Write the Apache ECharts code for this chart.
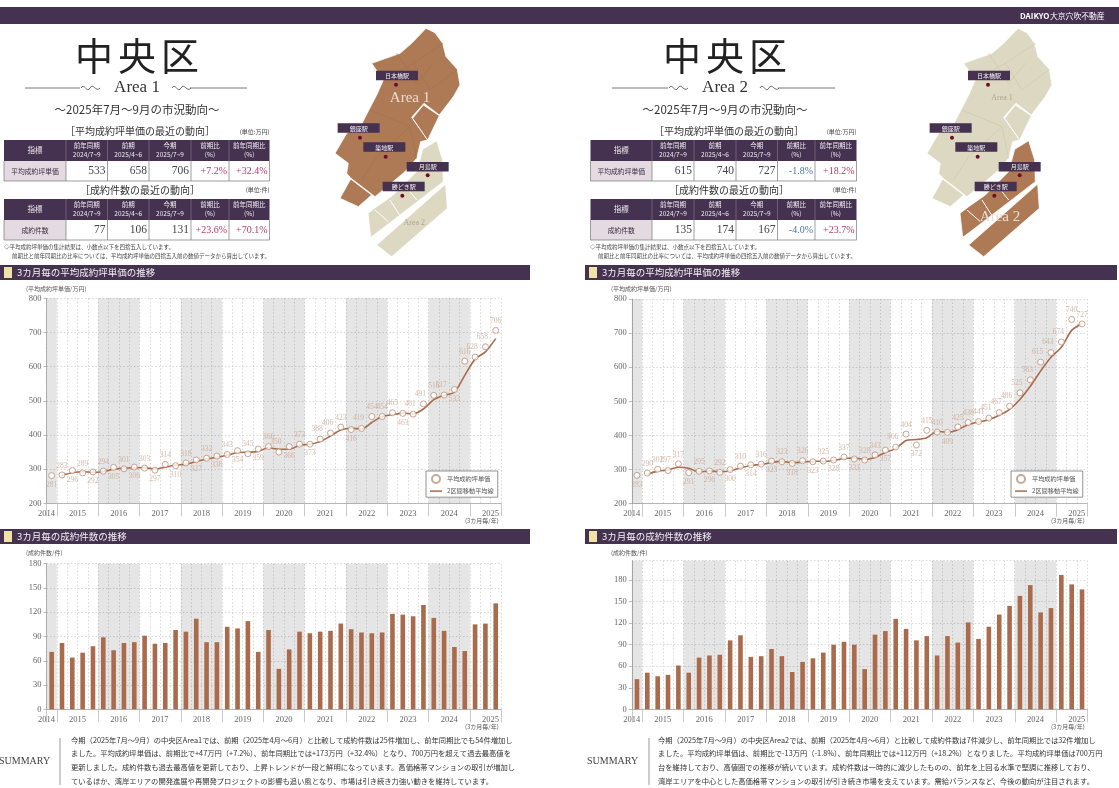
<!DOCTYPE html>
<html><head><meta charset="utf-8">
<script src="https://cdn.jsdelivr.net/npm/echarts@6/dist/echarts.min.js"></script>
<style>html,body{margin:0;padding:0;background:#fff}#c{width:1119px;height:788px}</style>
</head><body><div id="c"></div>
<script>
const quarters = [];
const quarterYears = [2014];
for (let y = 2015; y <= 2024; y++) quarterYears.push(y, y, y, y);
quarterYears.push(2025, 2025, 2025);
quarterYears.forEach((y, i) => quarters.push(y + '-' + i));

const yearLabels = ['2014','2015','2016','2017','2018','2019','2020','2021','2022','2023','2024','2025'];
const yearLabelPos = [0,3,7,11,15,19,23,27,31,35,39,43];
const yearTickPos = [0,1,5,9,13,17,21,25,29,33,37,41,44];

const priceArea1 = [281,283,296,289,292,294,305,301,306,303,297,314,310,318,327,332,338,343,354,345,359,366,350,366,373,373,388,406,423,416,419,454,454,465,463,461,491,516,517,533,616,628,658,706];
const maArea1 = [null,282,289.5,292.5,290.5,293,299.5,303,303.5,304.5,300,305.5,312,314,322.5,329.5,335,340.5,348.5,349.5,352,362.5,358,358,369.5,373,380.5,397,414.5,419.5,417.5,436.5,454,459.5,464,462,476,503.5,516.5,525,574.5,622,643,682];
const countArea1 = [71,82,64,70,78,89,73,82,83,91,81,82,98,96,112,83,83,102,100,109,71,98,50,74,96,94,96,97,106,99,95,94,95,118,117,115,129,113,97,77,72,105,106,131];

const priceArea2 = [283,290,301,297,317,291,295,296,292,300,310,314,316,325,323,318,326,323,325,328,337,331,328,343,357,366,404,372,415,410,409,425,438,441,451,467,486,525,563,615,643,674,740,727];
const maArea2 = [null,286.5,295.5,299,307,304,293,295.5,294,296,305,312,315,320.5,324,320.5,322,324.5,324,326.5,332.5,334,329.5,335.5,350,361.5,385,388,393.5,412.5,409.5,417,431.5,439.5,446,459,476.5,505.5,544,589,629,658.5,708,728];
const countArea2 = [42,51,46,48,61,51,72,75,76,96,103,73,74,84,74,52,66,71,79,90,94,90,56,104,109,126,112,96,102,75,102,93,121,98,115,132,144,158,173,135,141,187,174,167];

const belowArea1 = [0,2,4,6,8,10,12,14,16,18,20,23,25,29,34,39];
const belowArea2 = [0,5,7,9,11,13,15,17,19,21,24,27,30];

const tableHead = ['指標','前年同期\n2024/7~9','前期\n2025/4~6','今期\n2025/7~9','前期比\n(%)','前年同期比\n(%)'];
const priceRow1 = ['平均成約坪単価','533','658','706','+7.2%','+32.4%'];
const countRow1 = ['成約件数','77','106','131','+23.6%','+70.1%'];
const priceRow2 = ['平均成約坪単価','615','740','727','-1.8%','+18.2%'];
const countRow2 = ['成約件数','135','174','167','-4.0%','+23.7%'];

const summary1 = [
 '今期（2025年7月～9月）の中央区Area1では、前期（2025年4月～6月）と比較して成約件数は25件増加し、前年同期比でも54件増加し',
 'ました。平均成約坪単価は、前期比で+47万円（+7.2%）、前年同期比では+173万円（+32.4%）となり、700万円を超えて過去最高値を',
 '更新しました。成約件数も過去最高値を更新しており、上昇トレンドが一段と鮮明になっています。高価格帯マンションの取引が増加し',
 'ているほか、湾岸エリアの開発進展や再開発プロジェクトの影響も追い風となり、市場は引き続き力強い動きを維持しています。'];
const summary2 = [
 '今期（2025年7月～9月）の中央区Area2では、前期（2025年4月～6月）と比較して成約件数は7件減少し、前年同期比では32件増加し',
 'ました。平均成約坪単価は、前期比で-13万円（-1.8%）、前年同期比では+112万円（+18.2%）となりました。平均成約坪単価は700万円',
 '台を維持しており、高値圏での推移が続いています。成約件数は一時的に減少したものの、前年を上回る水準で堅調に推移しており、',
 '湾岸エリアを中心とした高価格帯マンションの取引が引き続き市場を支えています。需給バランスなど、今後の動向が注目されます。'];

const stations = ['日本橋駅','銀座駅','築地駅','月島駅','勝どき駅'];

const SERIF = '"Liberation Serif","Noto Sans CJK JP",serif';
const SANS = '"Noto Sans CJK JP",sans-serif';
const PURPLE = '#453150', BROWN = '#ad7a55', BEIGE = '#ddd8c2', BAR = '#a96b4c';
const PT = '平均成約坪単価', MA = '2区間移動平均線';

/* ---------- page furniture ---------- */
const els = [];
const T = (x, y, text, fontSize, o = {}) => els.push({type:'text', x, y, silent:true, z:20,
  style:{text, fontSize, fontFamily:o.font||SERIF, fill:o.fill||'#333', textAlign:o.align||'left',
    textVerticalAlign:'middle', fontWeight:o.weight||'normal', lineHeight:o.lh}});
const R = (x, y, w, h, fill, stroke, z = 15) => els.push({type:'rect', silent:true, z,
  shape:{x, y, width:w, height:h}, style:{fill, stroke:stroke||null, lineWidth:stroke?1:0}});
const L = (x1, y1, x2, y2, stroke, lw = 1) => els.push({type:'line', silent:true, z:16,
  shape:{x1, y1, x2, y2}, style:{stroke, lineWidth:lw}});
const flourish = (x, y, dir) => {
  els.push({type:'bezierCurve', silent:true, z:16, shape:{x1:x, y1:y, x2:x+9*dir, y2:y, cpx1:x+3*dir, cpy1:y-6, cpx2:x+6*dir, cpy2:y+6}, style:{stroke:'#555', fill:null, lineWidth:.9}});
  els.push({type:'bezierCurve', silent:true, z:16, shape:{x1:x+9*dir, y1:y, x2:x+19*dir, y2:y, cpx1:x+12*dir, cpy1:y-6, cpx2:x+15*dir, cpy2:y+5}, style:{stroke:'#555', fill:null, lineWidth:.9}});
};

R(0, 7, 1119, 17, PURPLE, null);
T(1020, 16, 'DAIKYO', 8, {font:SANS, fill:'#fff', weight:'bold'});
T(1050, 16, '大京穴吹不動産', 7.8, {font:SANS, fill:'#fff'});

function sectionBar(x, w, y, text) {
  R(x, y, w, 15, PURPLE, null);
  R(x + 4, y + 2, 8, 11, '#f1e3a8', null, 17);
  T(x + 17, y + 7.5, text, 9.5, {font:SANS, fill:'#f4f0f4'});
}

function table(cols, y, head, row) {
  const w = i => cols[i+1] - cols[i];
  R(cols[0], y, cols[6]-cols[0], 21, PURPLE, null);
  R(cols[0], y + 21, w(0), 20, '#e4dbe2', null);
  head.forEach((h, i) => T((cols[i]+cols[i+1])/2, y + 10.5, h, i ? 6.5 : 7.5, {font:SANS, fill:'#f0ebf0', align:'center', lh:9}));
  for (let i = 1; i < 6; i++) L(cols[i], y, cols[i], y + 21, '#8d7d95', .6);
  for (let i = 0; i < 7; i++) L(cols[i], y + 21, cols[i], y + 41, '#777', .7);
  L(cols[0], y + 41, cols[6], y + 41, '#777', .7);
  T((cols[0]+cols[1])/2, y + 31, row[0], 6.8, {font:SANS, fill:'#3a2b3d', align:'center'});
  row.slice(1).forEach((v, i) => {
    const pct = i >= 3;
    const neg = v[0] === '-';
    T(cols[i+2] - 2, y + 31, v, pct ? 10 : 11.5, {align:'right', fill: pct ? (neg ? '#4f74a8' : '#b83a64') : '#444'});
  });
}

function panelHead(cx, name, lineL, lineR, cols, rowP, rowC, secX, secX2, noteX) {
  ['中','央','区'].forEach((c, i) => T(cx - 43 + i*43, 56, c, 38, {font:SANS, align:'center', fill:'#222'}));
  L(lineL, 88, cx - 57, 88, '#555', .8);
  L(cx + 53, 88, lineR, 88, '#555', .8);
  flourish(cx - 56, 88, 1);
  flourish(cx + 35, 88, 1);
  T(cx, 88, name, 17, {align:'center', fill:'#333'});
  T(cx, 110, '～2025年7月～9月の市況動向～', 11.5, {font:SANS, align:'center', fill:'#333'});
  T(secX, 131, '［平均成約坪単価の最近の動向］', 10, {font:SANS, fill:'#333', align:'center'});
  T(cols[6], 132, '(単位:万円)', 6, {font:SANS, align:'right', fill:'#444'});
  table(cols, 140, tableHead, rowP);
  T(secX2, 190, '［成約件数の最近の動向］', 10, {font:SANS, fill:'#333', align:'center'});
  T(cols[6], 190, '(単位:件)', 6, {font:SANS, align:'right', fill:'#444'});
  table(cols, 199, tableHead, rowC);
  T(noteX, 247, '◇平均成約坪単価の集計結果は、小数点以下を四捨五入しています。', 5.5, {font:SANS, fill:'#444'});
  T(noteX + 8, 256, '前期比と前年同期比の比率については、平均成約坪単価の四捨五入前の数値データから算出しています。', 5.5, {font:SANS, fill:'#444'});
}
panelHead(137, 'Area 1', 25, 247, [4,66,107.5,149,191,229,269.5], priceRow1, countRow1, 140, 140, 4);
panelHead(725, 'Area 2', 612, 835, [590.5,652,694,736,777.5,815,856.5], priceRow2, countRow2, 729, 729, 590);

[[0,530],[585,532]].forEach(([x, w]) => {
  sectionBar(x, w, 265, '3カ月毎の平均成約坪単価の推移');
  sectionBar(x, w, 529, '3カ月毎の成約件数の推移');
});
[[26,465],[611,1051]].forEach(([a, b]) => {
  T(a, 289, '(平均成約坪単価/万円)', 6, {font:SANS, fill:'#555'});
  T(a, 553, '(成約件数/件)', 6, {font:SANS, fill:'#555'});
  T(b, 521, '(3カ月毎/年)', 6, {font:SANS, fill:'#555'});
  T(b, 727, '(3カ月毎/年)', 6, {font:SANS, fill:'#555'});
});

function summary(labelX, barX, textX, lines) {
  T(labelX, 761, 'SUMMARY', 10, {fill:'#444'});
  L(barX, 738, barX, 785, '#999', 1);
  const ys = [740, 753.5, 767.5, 781.5];
  lines.forEach((s, i) => T(textX, ys[i], s, 7.3, {font:SANS, fill:'#333'}));
}
summary(-1, 60, 71, summary1);
summary(587, 649, 658, summary2);

/* ---------- area map (illustration) ---------- */
const shapeMain = [[1278,85],[1305,98],[1328,130],[1338,170],[1372,208],[1380,255],[1360,290],[1318,345],[1272,310],[1235,352],[1283,420],[1262,425],[1250,475],[1215,515],[1125,590],[1053,535],[1040,520],[1045,490],[1005,460],[1040,400],[1085,372],[1130,285],[1150,240],[1115,190],[1200,160],[1235,130]];
const shapeBlockA = [[1270,315],[1318,347],[1283,420],[1238,355]];
const shapeBlockB = [[1052,537],[1115,585],[1075,620],[1020,595]];
const shapeUpper = [[1268,448],[1310,422],[1328,480],[1330,545],[1135,695],[1112,712],[1104,640],[1130,620],[1180,585],[1250,515]];
const shapeLower = [[1337,552],[1342,625],[1175,770],[1130,735]];
const streets = [[[1150,240],[1240,190],[1330,130]],[[1190,160],[1250,250],[1300,190]],[[1110,330],[1230,380],[1250,475]],[[1085,540],[1130,470],[1230,380]],[[1240,190],[1290,270],[1370,210]]];
const stationBox = [[1128,212],[1013,370],[1090,427],[1220,486],[1148,545]];
const stationDot = [[1188,254],[1080,413],[1157,470],[1283,526],[1207,587]];

function map(dx, area1Active) {
  const P = pts => pts.map(([x, y]) => [x/3 + dx, y/3]);
  const poly = (pts, fill) => els.push({type:'polygon', silent:true, z:12, shape:{points:P(pts)}, style:{fill, stroke:'#fff', lineWidth:.8}});
  const c1 = area1Active ? BROWN : BEIGE, c2 = area1Active ? BEIGE : BROWN;
  poly(shapeMain, c1); poly(shapeBlockA, c1); poly(shapeBlockB, c1);
  poly(shapeUpper, c2); poly(shapeLower, c2);
  streets.forEach(s => els.push({type:'polyline', silent:true, z:13, shape:{points:P(s)}, style:{stroke:area1Active?'#a27050':'#c9c4ab', fill:null, lineWidth:.6}}));
  [[[1125,630],[1165,665]],[[1170,600],[1205,655]],[[1230,575],[1250,600]]].forEach(s => els.push({type:'polyline', silent:true, z:13, shape:{points:P(s)}, style:{stroke:'#fff', fill:null, lineWidth:1}}));
  T(1230/3 + dx, 293/3, 'Area 1', area1Active ? 15 : 8, {align:'center', fill: area1Active ? '#ecdccf' : '#aea78e'});
  T((area1Active ? 1243 : 1224)/3 + dx, (area1Active ? 668 : 650)/3, 'Area 2', area1Active ? 8 : 15, {align:'center', fill: area1Active ? '#aea78e' : '#ecdccf'});
  stations.forEach((s, i) => {
    const [bx, by] = stationBox[i], [ax, ay] = stationDot[i];
    R(bx/3 + dx, by/3, 42, 9.5, PURPLE, null, 14);
    T(bx/3 + dx + 21, by/3 + 5, s, 6, {font:SANS, fill:'#f3eff3', align:'center'});
    els.push({type:'circle', silent:true, z:14, shape:{cx:ax/3 + dx, cy:ay/3, r:2}, style:{fill:'#6d0f2a'}});
  });
}
map(0, true);
map(592, false);

/* ---------- charts ---------- */
const grids = [], xAxes = [], yAxes = [], series = [];
const GRID = '#cfcfcf', AXC = '#a8a8a8', LBL = '#666';

function addChart(gridBox, yOpt, build) {
  const g = grids.length;
  grids.push(gridBox);
  const xi = xAxes.length, yi = yAxes.length;
  xAxes.push({type:'category', gridIndex:g, data:quarters, position:'bottom', boundaryGap:true,
    axisLine:{onZero:false, lineStyle:{color:AXC, width:.8}},
    axisTick:{length:3, lineStyle:{color:AXC, width:.8}},
    axisLabel:{show:false},
    splitLine:{show:true, interval:0, lineStyle:{color:GRID, type:[1.5,2], width:.8}}});
  xAxes.push({type:'value', gridIndex:g, min:0, max:44, position:'bottom',
    axisLine:{show:false, onZero:false},
    axisTick:{show:true, customValues:yearTickPos, length:13, lineStyle:{color:'#bdbdbd', width:.8}},
    axisLabel:{show:true, customValues:yearLabelPos, margin:6, fontSize:8.5, color:LBL, fontFamily:SERIF, hideOverlap:false,
      formatter:v => yearLabels[yearLabelPos.indexOf(v)]},
    splitLine:{show:false}});
  xAxes.push({type:'category', gridIndex:g, data:quarters, show:false, boundaryGap:true});
  yAxes.push(Object.assign({type:'value', gridIndex:g,
    axisLine:{show:true, lineStyle:{color:AXC, width:.8}},
    axisTick:{show:true, length:3, lineStyle:{color:AXC, width:.8}},
    axisLabel:{fontSize:8.5, color:LBL, fontFamily:SERIF, margin:5},
    splitLine:{show:true, lineStyle:{color:GRID, type:[1.5,2], width:.8}}}, yOpt));
  yAxes.push({type:'value', gridIndex:g, min:0, max:1, show:false});
  series.push({type:'bar', xAxisIndex:xi+2, yAxisIndex:yi+1, silent:true, barWidth:'100%', z:1,
    data:quarterYears.map(y => y % 2 === 0 ? 1 : 0), itemStyle:{color:'rgba(0,0,0,0.1)'}, legendHoverLink:false});
  build(xi, yi);
}

function priceChart(box, values, ma, below) {
  addChart(box, {min:200, max:800, interval:100}, (xi, yi) => {
    series.push({name:MA, type:'line', xAxisIndex:xi, yAxisIndex:yi, data:ma, smooth:0.25, symbol:'none', z:3,
      connectNulls:false, lineStyle:{color:'#a96b4c', width:1.6}, itemStyle:{color:'#a96b4c'}});
    series.push({name:PT, type:'scatter', xAxisIndex:xi, yAxisIndex:yi, symbol:'circle', symbolSize:6, z:4,
      itemStyle:{color:'#fff', borderColor:'#bb9178', borderWidth:1},
      data:values.map((v, i) => {
        const isBelow = below.includes(i);
        const rising = !isBelow && values[i+1] > v + 15;
        return {value:v, label:{position: isBelow ? 'bottom' : 'top', offset: rising ? [-3, -1] : [0, 0]}};
      }),
      label:{show:true, fontSize:7.5, color:'#cda893', fontFamily:SERIF, distance:2, formatter:p => p.value}});
  });
}
function countChart(box, values, yOpt) {
  addChart(box, yOpt, (xi, yi) => {
    series.push({type:'bar', xAxisIndex:xi, yAxisIndex:yi, data:values, barWidth:4.6, z:3, itemStyle:{color:BAR}});
  });
}
const G1 = {left:46.5, width:454.4}, G2 = {left:631.8, width:455.4};
priceChart({...G1, top:298.3, height:205}, priceArea1, maArea1, belowArea1);
priceChart({...G2, top:299, height:204.7}, priceArea2, maArea2, belowArea2);
countChart({...G1, top:563.7, height:145.6}, countArea1, {min:0, max:180, interval:30});
countChart({...G2, top:560.7, height:148.6}, countArea2, {min:0, max:207, interval:30, axisLabel:{fontSize:8.5, color:LBL, fontFamily:SERIF, margin:5, showMaxLabel:false}});

const legendBase = {orient:'vertical',
  data:[{name:PT}, {name:MA, icon:'path://M0 0H16V2H0Z'}],
  selectedMode:false, itemWidth:12, itemHeight:8, itemGap:4,
  padding:[3,4,3,4], borderColor:'#777', borderWidth:.8, backgroundColor:'#fff', z:10,
  textStyle:{fontSize:6.2, fontFamily:SANS, color:'#555'}};

const chart = echarts.init(document.getElementById('c'));
chart.setOption({
  animation:false,
  backgroundColor:'#fff',
  tooltip:{show:false},
  grid:grids.map(g => ({...g, containLabel:false})),
  xAxis:xAxes,
  yAxis:yAxes,
  series,
  legend:[{...legendBase, left:426, top:471}, {...legendBase, left:1011, top:471}],
  graphic:{elements:els}
});
</script></body></html>
